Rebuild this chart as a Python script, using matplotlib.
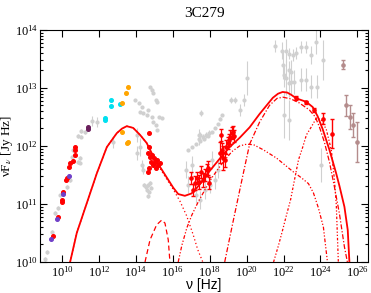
"""SED plot of 3C279 with model components."""

import numpy as np
import matplotlib
matplotlib.use("Agg")
from matplotlib import pyplot as plt
from matplotlib.ticker import LogLocator, NullLocator, FixedLocator

# ---- data, all as log10(nu / Hz) and log10(nuFnu / Jy Hz) ----
grey_lognu = [9.08, 9.17, 9.46, 9.62, 9.78, 9.89, 10.25, 10.43, 10.52, 10.83, 10.97, 10.97,
              10.61, 10.85, 11.03, 11.03, 11.24, 11.64, 11.88, 12.77,
              13.95, 14.16, 14.31, 14.22, 14.39, 14.66, 14.76, 14.88, 14.94, 15.08, 15.15,
              14.85, 14.94, 15.26, 15.39, 15.08, 15.15, 14.58, 14.04, 14.22, 14.04, 14.39, 14.32,
              14.43, 14.54, 14.65, 14.76, 14.59, 14.70, 14.65, 14.81,
              17.39, 17.39, 17.50, 17.46, 17.64, 17.82, 17.96,
              16.81, 17.03, 17.24, 17.46, 17.68, 17.89, 18.11, 18.27, 18.43, 18.54, 18.65,
              16.70, 16.81, 17.03, 17.24, 17.46, 17.73, 18.00, 18.27, 18.11, 18.43,
              19.17, 19.35, 19.62, 19.84, 20.04, 21.51, 21.93, 22.15, 22.32, 22.50, 22.69,
              22.96, 23.19, 23.50, 23.77, 24.12, 21.96, 22.05, 22.11, 22.32, 22.32, 22.42,
              22.42, 22.59, 22.96, 23.19, 23.50, 23.80, 22.00, 22.32, 24.05]
grey_logf = [10.05, 10.17, 10.52, 10.84, 10.93, 11.16, 11.29, 11.41, 11.81, 11.72, 11.71, 11.79,
             11.93, 12.17, 12.16, 12.26, 12.24, 12.43, 12.41, 12.07,
             12.79, 12.74, 12.67, 12.59, 12.57, 12.62, 13.02, 12.97, 12.91, 12.79, 12.76,
             12.50, 12.41, 12.50, 12.48, 12.36, 12.28, 12.53, 12.19, 11.98, 11.88, 11.59, 11.67,
             11.33, 11.29, 11.33, 11.36, 11.24, 11.21, 11.14, 11.28,
             12.19, 12.12, 12.57, 12.19, 12.16, 12.19, 12.22,
             11.93, 11.98, 12.03, 12.09, 12.12, 12.17, 12.24, 12.31, 12.38, 12.47, 12.53,
             11.59, 11.33, 11.67, 11.16, 11.07, 11.24, 11.33, 11.41, 11.76, 11.59,
             12.79, 12.79, 12.62, 12.79, 13.17, 13.72, 13.64, 13.64, 13.59, 13.57, 13.60,
             13.71, 13.71, 13.57, 13.79, 13.48, 13.40, 13.22, 13.17, 13.31, 13.09, 13.28,
             13.10, 13.10, 13.14, 13.14, 13.02, 13.02, 12.53, 12.45, 11.67]
grey_err = [0.03, 0.03, 0.03, 0.03, 0.03, 0.03, 0.03, 0.03, 0.03, 0.03, 0.03, 0.03,
            0.03, 0.03, 0.03, 0.03, 0.03, 0.08, 0.08, 0.10,
            0.02, 0.02, 0.02, 0.02, 0.02, 0.02, 0.02, 0.02, 0.02, 0.02, 0.02,
            0.02, 0.02, 0.02, 0.02, 0.02, 0.02, 0.02, 0.12, 0.15, 0.12, 0.08, 0.08,
            0.03, 0.03, 0.03, 0.03, 0.03, 0.03, 0.03, 0.03,
            0.10, 0.10, 0.05, 0.05, 0.05, 0.05, 0.05,
            0.02, 0.02, 0.02, 0.02, 0.02, 0.02, 0.02, 0.02, 0.02, 0.02, 0.02,
            0.15, 0.15, 0.15, 0.15, 0.15, 0.15, 0.15, 0.15, 0.15, 0.15,
            0.05, 0.05, 0.10, 0.10, 0.30, 0.10, 0.15, 0.20, 0.10, 0.10, 0.10,
            0.10, 0.10, 0.15, 0.20, 0.35, 0.25, 0.20, 0.30, 0.15, 0.25, 0.20,
            0.20, 0.20, 0.20, 0.20, 0.20, 0.20, 0.40, 0.35, 0.30]

red_lognu = [9.48, 9.75, 9.98, 10.0, 10.07, 10.22, 10.24, 10.38, 10.40, 10.56, 10.69, 10.71, 10.69,
             14.70, 14.70, 14.65, 14.76, 14.86, 14.97, 14.81, 15.03, 15.14, 14.92, 15.19,
             14.70, 15.08, 14.65, 15.30]
red_logf = [10.44, 10.78, 11.07, 11.03, 11.21, 11.41, 11.45, 11.64, 11.71, 11.74, 11.84, 11.93, 11.98,
            12.22, 11.98, 11.88, 11.81, 11.84, 11.79, 11.72, 11.72, 11.76, 11.67, 11.67,
            11.62, 11.62, 11.55, 11.71]

xray_lognu = [16.97, 17.08, 17.19, 17.30, 17.41, 17.51, 17.62, 17.73, 17.84, 17.89, 17.95,
              18.54, 18.65, 18.70, 18.81, 18.86, 18.97, 19.03, 19.08, 19.19, 19.24, 19.30, 18.59]
xray_logf = [11.45, 11.24, 11.36, 11.45, 11.38, 11.55, 11.41, 11.50, 11.59, 11.62, 11.36,
             11.88, 11.93, 11.79, 11.76, 11.98, 12.05, 12.10, 12.16, 12.22, 12.24, 12.17, 12.19]
xray_err = [0.10, 0.10, 0.12, 0.10, 0.12, 0.10, 0.12, 0.10, 0.10, 0.12, 0.10,
            0.18, 0.12, 0.20, 0.12, 0.12, 0.10, 0.10, 0.12, 0.10, 0.10, 0.10, 0.10]

gamma_lognu = [22.65, 23.19, 23.64, 24.16, 24.65]
gamma_logf = [12.83, 12.75, 12.62, 12.47, 12.21]
gamma_err = [0.03, 0.03, 0.04, 0.09, 0.25]

purple_lognu = [9.41, 9.73, 10.07, 10.39]
purple_logf = [10.40, 10.74, 11.17, 11.49]
plum_lognu = [11.41, 11.41]
plum_logf = [12.32, 12.29]
cyan_lognu = [12.31, 12.31, 12.65, 12.65, 13.14]
cyan_logf = [12.48, 12.44, 12.79, 12.69, 12.72]
orange_lognu = [13.57, 13.46, 13.23, 13.23, 13.52, 13.57]
orange_logf = [13.01, 12.91, 12.74, 12.24, 12.05, 12.07]
brown_lognu = [25.24, 25.39, 25.61, 25.78, 25.98]
brown_logf = [13.40, 12.70, 12.50, 12.36, 12.07]
brown_err = [0.08, 0.18, 0.20, 0.20, 0.35]

# ---- model components ----
total_lognu = [10.43, 10.79, 11.34, 11.88, 12.42, 12.96, 13.25, 13.50, 13.85, 14.22, 14.58, 14.94,
               15.48, 16.02, 16.29, 16.65, 17.01, 17.28, 17.64, 18.00, 18.54, 19.08, 19.62, 20.16,
               20.70, 21.06, 21.42, 21.70, 21.95, 22.20, 22.42, 22.69, 23.23, 23.58, 23.85, 24.12,
               24.49, 24.85, 25.03, 25.30, 25.48, 25.57]
total_logf = [10.00, 10.50, 11.02, 11.53, 11.98, 12.22, 12.30, 12.34, 12.31, 12.19, 12.05, 11.82,
              11.55, 11.28, 11.17, 11.14, 11.18, 11.27, 11.41, 11.57, 11.78, 11.98, 12.14, 12.32,
              12.55, 12.69, 12.83, 12.90, 12.93, 12.92, 12.88, 12.82, 12.76, 12.67, 12.51, 12.29,
              11.93, 11.53, 11.31, 10.95, 10.55, 10.00]
sync_lognu = [10.43, 10.79, 11.34, 11.88, 12.42, 12.96, 13.25, 13.50, 13.85, 14.22, 14.58, 14.94,
              15.48, 16.02, 16.38, 16.74, 17.10, 17.35, 17.62]
sync_logf = [10.00, 10.50, 11.02, 11.53, 11.98, 12.22, 12.30, 12.34, 12.31, 12.19, 12.05, 11.80,
             11.52, 11.25, 11.05, 10.80, 10.47, 10.21, 10.00]
disk_lognu = [14.49, 14.76, 15.12, 15.39, 15.57, 15.75, 15.84]
disk_logf = [10.00, 10.38, 10.64, 10.72, 10.67, 10.38, 10.00]
ssc_lognu = [16.29, 16.49, 16.76, 17.03, 17.35, 17.73, 18.11, 18.65, 19.19, 19.62, 20.00, 20.38,
             20.92, 21.62, 22.54, 22.97, 23.35, 23.62, 23.89, 24.16, 24.38]
ssc_logf = [10.00, 10.29, 10.59, 10.81, 11.02, 11.24, 11.45, 11.69, 11.90, 12.00, 12.03, 12.02,
            11.93, 11.79, 11.55, 11.45, 11.35, 11.19, 10.93, 10.60, 10.00]
ec_lognu = [18.81, 19.26, 19.80, 20.16, 20.70, 21.24, 21.65, 21.97, 22.40, 22.86, 23.40, 23.72,
            23.94, 24.21, 24.49, 24.76, 25.03, 25.30, 25.46]
ec_logf = [10.00, 10.69, 11.50, 12.03, 12.41, 12.70, 12.82, 12.84, 12.81, 12.74, 12.62, 12.50,
           12.33, 12.07, 11.72, 11.29, 10.83, 10.26, 10.00]
torus_lognu = [21.46, 21.73, 21.95, 22.16, 22.38, 22.59, 22.81, 23.03, 23.24, 23.51, 23.78, 24.05,
               24.32, 24.59, 24.76, 24.86, 24.97]
torus_logf = [10.00, 10.29, 10.55, 10.81, 11.07, 11.41, 11.76, 11.97, 12.19, 12.33, 12.48, 12.45,
              12.28, 11.93, 11.41, 10.98, 10.00]

RED = "#ff0000"
GREY = "#d0d0d0"


def p(a):
    return 10.0 ** np.asarray(a)


def err(logf, e):
    logf = np.asarray(logf)
    e = np.asarray(e)
    return [10 ** logf - 10 ** (logf - e), 10 ** (logf + e) - 10 ** logf]


plt.rcParams["font.family"] = ["Liberation Serif", "DejaVu Serif"]
plt.rcParams["mathtext.fontset"] = "stix"

fig = plt.figure(figsize=(3.71, 2.93), dpi=100)
ax = fig.add_axes([0.108, 0.106, 0.884, 0.792])
ax.set_xscale("log")
ax.set_yscale("log")

# grey archival data
ax.errorbar(p(grey_lognu), p(grey_logf), yerr=err(grey_logf, grey_err), fmt="o", ms=2.0,
            color=GREY, ecolor=GREY, elinewidth=0.8, capsize=0, zorder=1)

# model components
ax.plot(p(sync_lognu), p(sync_logf), color=RED, lw=0.9, dashes=(1, 2), zorder=2)
ax.plot(p(disk_lognu), p(disk_logf), color=RED, lw=0.9, dashes=(4, 2.5), zorder=2)
ax.plot(p(ssc_lognu), p(ssc_logf), color=RED, lw=0.9, dashes=(3, 1.5, 1, 1.5, 1, 1.5), zorder=2)
ax.plot(p(ec_lognu), p(ec_logf), color=RED, lw=0.9, dashes=(4, 1.5, 1, 1.5), zorder=2)
ax.plot(p(torus_lognu), p(torus_logf), color=RED, lw=0.9, dashes=(2, 1.5, 1, 1.5, 1, 1.5), zorder=2)
ax.plot(p(total_lognu), p(total_logf), color=RED, lw=1.3, zorder=3)

# simultaneous data
ax.plot(p(red_lognu), p(red_logf), "o", ms=2.6, color=RED, zorder=4)
ax.errorbar(p(xray_lognu), p(xray_logf), yerr=err(xray_logf, xray_err), fmt="o", ms=2.3,
            color=RED, elinewidth=0.9, capsize=1.2, zorder=4)
ax.errorbar(p(gamma_lognu), p(gamma_logf), yerr=err(gamma_logf, gamma_err), fmt="o", ms=2.3,
            color=RED, elinewidth=1.0, capsize=1.2, zorder=4)
ax.plot(p(purple_lognu), p(purple_logf), "o", ms=2.6, color="#7040c8", zorder=4)
ax.plot(p(plum_lognu), p(plum_logf), "o", ms=2.6, color="#6a1f5c", zorder=4)
ax.plot(p(cyan_lognu), p(cyan_logf), "o", ms=2.6, color="#00e0f0", zorder=4)
ax.plot(p(orange_lognu), p(orange_logf), "o", ms=2.6, color="#ffa500", zorder=4)
ax.errorbar(p(brown_lognu), p(brown_logf), yerr=err(brown_logf, brown_err), fmt="o", ms=2.3,
            color="#b48c8c", elinewidth=1.0, capsize=1.2, zorder=4)

ax.set_xlim(10 ** 8.8, 10 ** 26.58)
ax.set_ylim(1e10, 1e14)
ax.xaxis.set_major_locator(FixedLocator([10.0 ** k for k in range(10, 27, 2)]))
ax.xaxis.set_minor_locator(NullLocator())
ax.yaxis.set_major_locator(LogLocator(base=10, numticks=10))
ax.yaxis.set_minor_locator(LogLocator(base=10, subs=np.arange(2, 10), numticks=20))
ax.tick_params(which="both", direction="in", top=True, right=True, labelsize=9, width=0.8)
ax.tick_params(which="major", length=5)
ax.tick_params(which="minor", length=2.5)
ax.tick_params(axis="x", pad=2)
ax.tick_params(axis="y", pad=1.5)
for s in ax.spines.values():
    s.set_linewidth(0.8)

ax.set_xlabel(r"ν [Hz]", fontsize=10, family=["Liberation Sans"], labelpad=-1)
ax.set_ylabel(r"νF$_{\nu}$ [Jy Hz]", fontsize=9.5, va="center")
ax.yaxis.set_label_coords(-0.1, 0.5)
ax.set_title("3C279", fontsize=11, pad=9)

fig.savefig("out.png", dpi=100)
